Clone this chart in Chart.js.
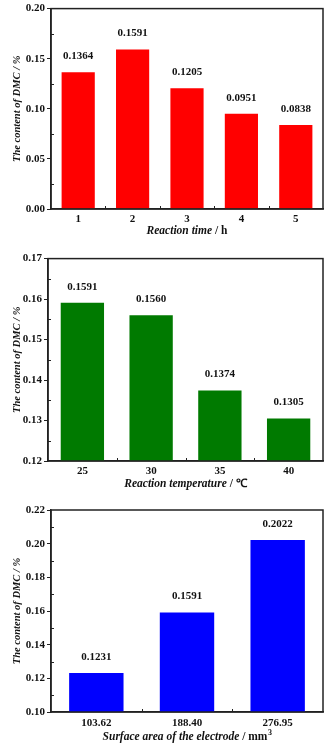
<!DOCTYPE html>
<html>
<head>
<meta charset="utf-8">
<script src="https://cdn.jsdelivr.net/npm/chart.js@4.4.1/dist/chart.umd.min.js"></script>
<style>
  html, body { margin: 0; padding: 0; background: #fff; }
  .panel { position: absolute; left: 0; width: 329px; }
</style>
</head>
<body>
<div class="panel" style="top:0;height:250px"><canvas id="timeChart" width="329" height="250"></canvas></div>
<div class="panel" style="top:250px;height:250px"><canvas id="tempChart" width="329" height="250"></canvas></div>
<div class="panel" style="top:500px;height:251px"><canvas id="areaChart" width="329" height="251"></canvas></div>
<script>
  // Reaction time
  var timeLabels = ['1', '2', '3', '4', '5'];
  var timeValues = [0.1364, 0.1591, 0.1205, 0.0951, 0.0838];
  var timeTicks = { min: 0, max: 0.20, step: 0.05 };

  // Reaction temperature
  var tempLabels = ['25', '30', '35', '40'];
  var tempValues = [0.1591, 0.1560, 0.1374, 0.1305];
  var tempTicks = { min: 0.12, max: 0.17, step: 0.01 };

  // Surface area of the electrode
  var areaLabels = ['103.62', '188.40', '276.95'];
  var areaValues = [0.1231, 0.1591, 0.2022];
  var areaTicks = { min: 0.10, max: 0.22, step: 0.02 };

  var yTitle = 'The content of DMC / %';
  var serif = "'Liberation Serif', 'Times New Roman', serif";

  // frame, inward minor ticks, value labels and the x title (italic name + upright unit)
  var decorPlugin = {
    id: 'decor',
    afterDatasetsDraw: function (chart, args, opts) {
      var ctx = chart.ctx;
      var a = chart.chartArea;
      var y = chart.scales.y;
      var x = chart.scales.x;
      ctx.save();
      ctx.strokeStyle = '#222';
      ctx.lineWidth = 1.5;
      ctx.strokeRect(a.left, a.top, a.right - a.left, a.bottom - a.top);

      // minor y ticks, pointing inward
      ctx.lineWidth = 1;
      var half = opts.step / 2;
      for (var v = opts.min + half; v < opts.max; v += opts.step) {
        var py = Math.round(y.getPixelForValue(v)) + 0.5;
        ctx.beginPath();
        ctx.moveTo(a.left, py);
        ctx.lineTo(a.left + 3, py);
        ctx.stroke();
      }
      // x ticks between categories, pointing inward
      for (var i = 0; i < x.ticks.length - 1; i++) {
        var px = Math.round((x.getPixelForTick(i) + x.getPixelForTick(i + 1)) / 2) + 0.5;
        ctx.beginPath();
        ctx.moveTo(px, a.bottom);
        ctx.lineTo(px, a.bottom - 3);
        ctx.stroke();
      }

      // value labels above bars
      ctx.fillStyle = '#111';
      ctx.font = 'bold 11px ' + serif;
      ctx.textAlign = 'center';
      ctx.textBaseline = 'middle';
      var meta = chart.getDatasetMeta(0);
      var data = chart.data.datasets[0].data;
      meta.data.forEach(function (bar, k) {
        ctx.fillText(data[k].toFixed(4), bar.x, bar.y - 16);
      });

      // x title
      var italicFont = 'italic bold 11.5px ' + serif;
      var uprightFont = 'bold 11.5px ' + serif;
      ctx.font = italicFont;
      var w1 = ctx.measureText(opts.titleName).width;
      ctx.font = uprightFont;
      var w2 = ctx.measureText(opts.titleUnit).width;
      var supW = 0;
      if (opts.titleSup) {
        ctx.font = 'bold 8px ' + serif;
        supW = ctx.measureText(opts.titleSup).width;
      }
      var tx = (a.left + a.right) / 2 - (w1 + w2 + supW) / 2;
      var ty = opts.titleY;
      ctx.textAlign = 'left';
      ctx.font = italicFont;
      ctx.fillText(opts.titleName, tx, ty);
      ctx.font = uprightFont;
      ctx.fillText(opts.titleUnit, tx + w1, ty);
      if (opts.titleSup) {
        ctx.font = 'bold 8px ' + serif;
        ctx.fillText(opts.titleSup, tx + w1 + w2 + 0.5, ty - 4);
      }
      ctx.restore();
    }
  };

  function makeChart(id, labels, values, color, range, xTitle, box) {
    var decorOpts = {
      min: range.min, max: range.max, step: range.step,
      titleName: xTitle[0], titleUnit: xTitle[1], titleSup: xTitle[2] || '',
      titleY: box.titleY
    };
    return new Chart(document.getElementById(id), {
      type: 'bar',
      data: {
        labels: labels,
        datasets: [{
          data: values,
          backgroundColor: color,
          borderWidth: 0,
          barPercentage: 1,
          categoryPercentage: box.barPct
        }]
      },
      options: {
        responsive: false,
        animation: false,
        events: [],
        layout: { padding: { top: box.top, right: box.right, left: 0, bottom: 0 } },
        plugins: {
          legend: { display: false },
          tooltip: { enabled: false },
          decor: decorOpts
        },
        scales: {
          x: {
            grid: { display: true, drawOnChartArea: false, drawTicks: false },
            border: { color: '#222', width: 1.5 },
            ticks: {
              color: '#111',
              padding: box.xPad,
              maxRotation: 0,
              font: { family: serif, size: 11, weight: 'bold' }
            },
            afterFit: function (scale) { scale.height = box.xHeight; }
          },
          y: {
            min: range.min,
            max: range.max,
            grid: { drawOnChartArea: false, drawTicks: true, tickLength: 4, color: '#222' },
            border: { color: '#222', width: 1.5 },
            ticks: {
              stepSize: range.step,
              color: '#111',
              padding: 2,
              font: { family: serif, size: 11, weight: 'bold' },
              callback: function (v) { return v.toFixed(2); }
            },
            title: {
              display: true,
              text: yTitle,
              color: '#111',
              padding: { top: 11, bottom: 0 },
              font: { family: serif, size: 10.5, weight: 'bold', style: 'italic' }
            },
            afterFit: function (scale) { scale.width = box.left; }
          }
        }
      },
      plugins: [decorPlugin]
    });
  }

  makeChart('timeChart', timeLabels, timeValues, '#ff0000', timeTicks, ['Reaction time ', '/ h'],
    { left: 51, top: 7, right: 6, xHeight: 41, xPad: 4, titleY: 231, barPct: 0.61 });
  makeChart('tempChart', tempLabels, tempValues, '#007a00', tempTicks, ['Reaction temperature ', '/ \u2103'],
    { left: 48, top: 7, right: 6, xHeight: 39, xPad: 4, titleY: 234, barPct: 0.63 });
  makeChart('areaChart', areaLabels, areaValues, '#0000ff', areaTicks, ['Surface area of the electrode ', '/ mm', '3'],
    { left: 51, top: 10, right: 6, xHeight: 39, xPad: 5, titleY: 237, barPct: 0.6 });
</script>
</body>
</html>
